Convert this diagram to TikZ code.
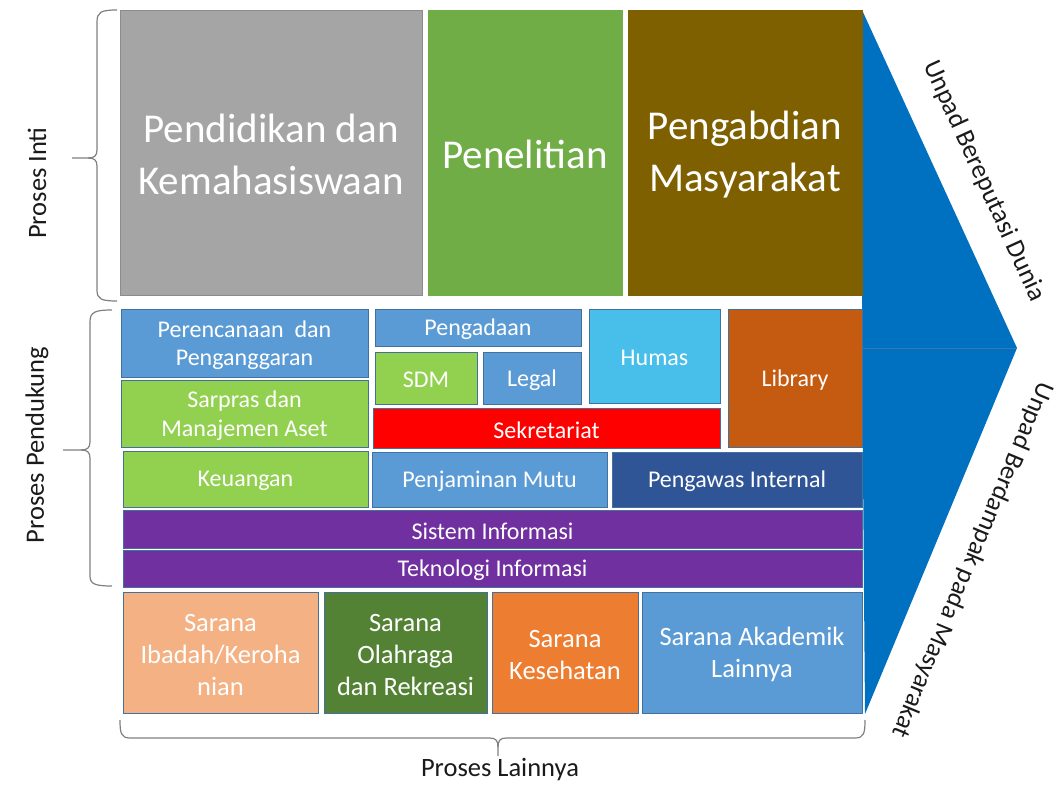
\documentclass[tikz,border=0pt]{standalone}
\usepackage{fontspec}
\setmainfont{Carlito}
\definecolor{cgray}{HTML}{A5A5A5}
\definecolor{cgrayd}{HTML}{8C8C8C}
\definecolor{cgreen}{HTML}{70AD47}
\definecolor{cbrown}{HTML}{7F6000}
\definecolor{cblue}{HTML}{5B9BD5}
\definecolor{cedge}{HTML}{41719C}
\definecolor{clime}{HTML}{92D050}
\definecolor{ccyan}{HTML}{47BFEA}
\definecolor{crust}{HTML}{C55A11}
\definecolor{cred}{HTML}{FF0000}
\definecolor{cnavy}{HTML}{2F5597}
\definecolor{cpurple}{HTML}{7030A0}
\definecolor{cpeach}{HTML}{F4B183}
\definecolor{cdgreen}{HTML}{548235}
\definecolor{corange}{HTML}{ED7D31}
\definecolor{ctri}{HTML}{0070C0}
\definecolor{ctriline}{HTML}{3A78B5}
\definecolor{cbrace}{HTML}{808080}
\definecolor{ctext}{HTML}{1A1A1A}
\newcommand\tile[9]{%
  \node[tilestyle, fill=#6, draw=#7, minimum width={#4-#2}, minimum height={#5-#3},
    label={[tiletext, #8]center:#9}]
    (#1) at ({(#2+#4)/2},{(#3+#5)/2}) {};}
\tikzset{
  tilestyle/.style={rectangle, inner sep=0pt, outer sep=0pt, line width=1pt},
  tiletext/.style={text=white, align=center, inner sep=0pt, yshift=-2pt},
  big/.style={font=\fontsize{41}{52}\selectfont},
  mid/.style={font=\fontsize{24}{28.5}\selectfont},
  low/.style={font=\fontsize{26.5}{32}\selectfont},
  side/.style={font=\fontsize{26.5}{30}\selectfont, text=ctext, inner sep=0pt},
  bracestyle/.style={draw=cbrace, line width=1.2pt}
}
\begin{document}
\begin{tikzpicture}[x=1pt,y=-1pt]
\useasboundingbox (0,0) rectangle (1060,787);
% chevron
\coordinate (ttop) at (862,10);
\coordinate (tmid) at (862,348);
\coordinate (ttip) at (1017,348);
\coordinate (tbot) at (865,714);
\fill[ctri] (ttop) -- (ttip) -- (tmid) -- cycle;
\fill[ctri] (tmid) -- (ttip) -- (tbot) -- cycle;
\draw[ctriline, line width=0.8pt] (tmid) -- (ttip);
% top row
\tile{pend}{120}{10}{422}{295}{cgray}{cgrayd}{big}{Pendidikan dan\\Kemahasiswaan}
\tile{pene}{428}{10}{622}{295}{cgreen}{cgreen}{big}{Penelitian}
\tile{peng}{628}{10}{862}{295}{cbrown}{cbrown}{big}{Pengabdian\\Masyarakat}
% middle
\tile{pere}{121}{309}{368}{377}{cblue}{cedge}{mid}{Perencanaan~ dan\\Penganggaran}
\tile{sarp}{121}{380}{368}{447}{clime}{cedge}{mid}{Sarpras dan\\Manajemen Aset}
\tile{peda}{375}{309}{581}{346}{cblue}{cedge}{mid}{Pengadaan}
\tile{sdm}{375}{352}{477}{404}{clime}{cedge}{mid}{SDM}
\tile{legal}{483}{352}{581}{404}{cblue}{cedge}{mid}{Legal}
\tile{humas}{589}{309}{720}{403}{ccyan}{cedge}{mid}{Humas}
\tile{lib}{728}{309}{862}{447}{crust}{cedge}{mid}{Library}
\tile{sekr}{373}{408}{720}{448}{cred}{cedge}{mid}{Sekretariat}
\tile{keu}{123}{451}{368}{507}{clime}{cedge}{mid}{Keuangan}
\tile{penj}{372}{452}{607}{507}{cblue}{cedge}{mid}{Penjaminan Mutu}
\tile{pint}{612}{452}{862}{507}{cnavy}{cedge}{mid}{Pengawas Internal}
\tile{sist}{123}{510}{862}{548}{cpurple}{cedge}{mid}{Sistem Informasi}
\tile{tekn}{123}{550}{862}{587}{cpurple}{cedge}{mid}{Teknologi Informasi}
% bottom
\tile{iba}{123}{592}{318}{713}{cpeach}{cedge}{low}{Sarana\\Ibadah/Keroha\\nian}
\tile{ola}{324}{592}{487}{713}{cdgreen}{cedge}{low}{Sarana\\Olahraga\\dan Rekreasi}
\tile{kes}{492}{592}{638}{713}{corange}{cedge}{low}{Sarana\\Kesehatan}
\tile{aka}{642}{592}{862}{713}{cblue}{cedge}{low}{Sarana Akademik\\Lainnya}
% braces
\draw[bracestyle] (117,10) .. controls (101,10) and (97,12) .. (97,22) -- (97,150)
  .. controls (97,156) and (94,158) .. (88,158) -- (72,158);
\draw[bracestyle] (88,158) .. controls (94,158) and (97,160) .. (97,166) -- (97,290)
  .. controls (97,299) and (101,301) .. (117,301);
\draw[bracestyle] (112,310) .. controls (95,310) and (90,312) .. (90,322) -- (90,442)
  .. controls (90,448) and (87,450) .. (81,450) -- (63,450);
\draw[bracestyle] (81,450) .. controls (87,450) and (90,452) .. (90,458) -- (90,576)
  .. controls (90,584) and (95,586) .. (112,586);
\draw[bracestyle] (120,720) .. controls (120,733) and (121,738) .. (130,738) -- (490,738)
  .. controls (496,738) and (498,741) .. (498,747) -- (498,756);
\draw[bracestyle] (498,747) .. controls (498,741) and (500,738) .. (506,738) -- (855,738)
  .. controls (864,738) and (865,733) .. (865,720);
% labels
\node[side, rotate=90] (linti) at (37,183) {Proses Inti};
\node[side, rotate=90] (lpend) at (37,445) {Proses Pendukung};
\node[side] (llain) at (500,770) {Proses Lainnya};
\node[side, rotate=-65.4] (ldunia) at (984,181) {Unpad Bereputasi Dunia};
\node[side, rotate=-112.6, font=\fontsize{26}{30}\selectfont] (lmas) at (972,560) {Unpad Berdampak pada Masyarakat};
\end{tikzpicture}
\end{document}
